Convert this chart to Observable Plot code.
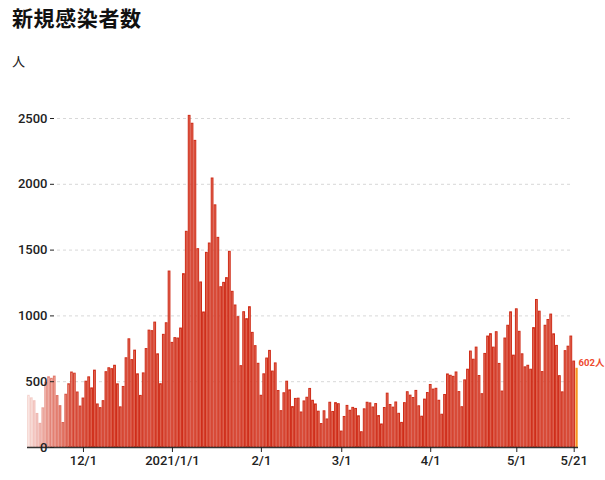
<!DOCTYPE html>
<html><head><meta charset="utf-8">
<script src="https://cdn.jsdelivr.net/npm/d3@7"></script>
<script src="https://cdn.jsdelivr.net/npm/@observablehq/plot@0.6"></script>
<style>
body{margin:0;background:#fff;}
#wrap{position:relative;width:605px;height:480px;overflow:hidden;}
#chart{position:absolute;left:0;top:0;}
#title{position:absolute;left:12px;top:2px;font:700 21px "Noto Sans CJK JP";color:#111;letter-spacing:0.6px;}
#unit{position:absolute;left:12px;top:51px;font:400 13px "Noto Sans CJK JP";color:#222;}
</style></head><body>
<div id="wrap"><div id="chart"></div><div id="title">新規感染者数</div><div id="unit">人</div></div>
<script>
// Daily new cases, first bar = 2020-11-12
const startDate = "2020-11-12";
const nov = [393,374,352,255,180,298,493,534,522,539,391,314,186,401,481,570,561,418,311];
const dec = [372,500,533,449,584,327,299,352,572,602,595,621,480,305,460,678,822,664,736,556,392,563,748,888,884,949,708,481,856,944,1337];
const jan = [795,831,828,904,1317,1639,2520,2460,2330,1507,1254,1026,1479,1550,2044,1840,1593,1218,1251,1287,1487,1183,1079,990,618,1028,975,1066,871,770,636];
const feb = [393,556,676,734,577,639,429,276,412,500,434,307,369,371,266,350,378,445,355,327,272,178,275,213,340,270,337,329];
const mar = [121,232,316,279,301,293,237,116,290,340,335,304,330,239,175,300,409,323,303,342,256,187,337,420,394,376,430,313,234,364,414];
const apr = [475,440,446,355,249,399,555,545,537,570,421,306,510,591,729,667,759,543,405,711,843,861,759,876,635,425,828,925,1027,698];
const may = [1050,879,708,609,621,591,907,1121,1032,573,925,969,1010,860,772,542,419,732,766,843,653,602];

const tickDates = ["2020-12-01","2021-01-01","2021-02-01","2021-03-01","2021-04-01","2021-05-01","2021-05-21"];
const tickLabels = ["12/1","2021/1/1","2/1","3/1","4/1","5/1","5/21"];
const yTicks = [0,500,1000,1500,2000,2500];
const latestLabel = "602人";

const DAY = 864e5;
const values = [...nov, ...dec, ...jan, ...feb, ...mar, ...apr, ...may];
const t0 = Date.parse(startDate);
const data = values.map((v, i) => ({date: new Date(t0 + i * DAY), value: v, i}));
const hist = data.slice(0, -1);
const last = data.slice(-1);
const fadeN = nov.length;
const fade = d => d.i < fadeN ? 0.14 + 0.86 * d.i / fadeN : 1;
const labelMap = new Map(tickDates.map((s, k) => [Date.parse(s), tickLabels[k]]));

const chart = Plot.plot({
  width: 605,
  height: 480,
  marginLeft: 27,
  marginRight: 27,
  marginTop: 118,
  marginBottom: 33,
  style: {fontFamily: "Roboto, 'Noto Sans CJK JP', sans-serif", background: "transparent"},
  x: {type: "utc", domain: [new Date(t0 - DAY / 2), new Date(t0 + (values.length - 0.5) * DAY)], label: null},
  y: {domain: [0, 2500], label: null},
  marks: [
    Plot.ruleY(yTicks.slice(1), {stroke: "#d8d8d8", strokeDasharray: "3,3", insetLeft: 30, insetRight: 6}),
    Plot.rectY(hist, {
      x1: d => new Date(+d.date - DAY / 2), x2: d => new Date(+d.date + DAY / 2), y: "value",
      fill: "#e3705d", stroke: "#cf2c18", strokeWidth: 1, insetLeft: 0.55, insetRight: 0.55,
      fillOpacity: fade, strokeOpacity: fade
    }),
    Plot.rectY(last, {
      x1: d => new Date(+d.date - DAY / 2), x2: d => new Date(+d.date + DAY / 2), y: "value",
      fill: "#f7941d", insetLeft: 0.3, insetRight: 0.3
    }),
    Plot.text(last, {x: "date", y: "value", text: () => latestLabel, textAnchor: "start", dx: 1.5, dy: -5,
      fill: "#ee4a2e", fontSize: 9.5, fontWeight: "bold"}),
    Plot.ruleY([0], {stroke: "#333", strokeWidth: 1.3}),
    Plot.axisX(tickDates.map(s => new Date(Date.parse(s))), {
      anchor: "bottom", tickSize: 5, tickPadding: 3, fontSize: 13, fontWeight: 500, color: "#222",
      tickFormat: d => labelMap.get(+d), label: null
    }),
    Plot.axisY(yTicks, {
      anchor: "left", tickSize: 4, tickPadding: 3, dx: 27, fontSize: 13, fontWeight: 500, color: "#222",
      tickFormat: d => String(d), label: null
    })
  ]
});
document.getElementById("chart").appendChild(chart);
</script>
</body></html>
